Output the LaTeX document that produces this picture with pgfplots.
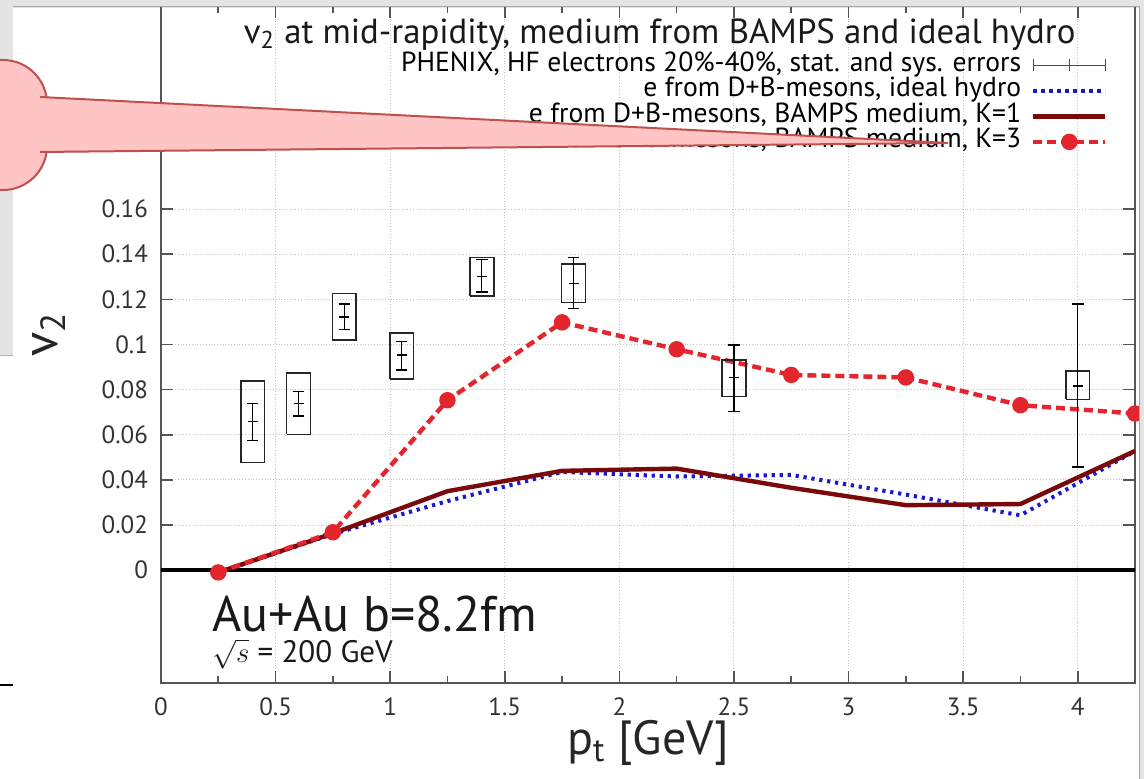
\documentclass[border=0pt]{standalone}
\usepackage{pgfplots}
\pgfplotsset{compat=1.18}
\usepackage{fontspec}
\setmainfont{PT Sans}
\definecolor{k3red}{HTML}{E3262E}
\definecolor{k1red}{HTML}{7A0A0A}
\definecolor{hydroblue}{HTML}{1A1ACC}
\definecolor{axgray}{HTML}{555555}
\definecolor{calloutfill}{HTML}{FFC4C4}
\definecolor{calloutedge}{HTML}{C0504D}
\definecolor{wingray}{HTML}{E4E4E4}
\begin{document}
\begin{tikzpicture}
\useasboundingbox (0,0) rectangle (572pt,389.5pt);
\fill[wingray] (0,0) rectangle (572pt,389.5pt);
\begin{scope}[x=0.5pt,y=-0.5pt,shift={(0,389.5pt)}]
  \fill[white] (13,8) rectangle (1139,779);
  \fill[white] (0,355) rectangle (13,779);
  \draw[gray!60] (0,355) -- (13,355);
  \draw[black,line width=1pt] (0,685) -- (13,685);
\end{scope}
\begin{axis}[
  at={(80.5pt,48pt)}, anchor=south west,
  scale only axis, width=487pt, height=338.5pt,
  xmin=0, xmax=4.25, ymin=-0.05, ymax=0.25,
  axis line style={axgray, line width=1pt},
  xtick={0,0.5,1,1.5,2,2.5,3,3.5,4},
  xticklabels={0,0.5,1,1.5,2,2.5,3,3.5,4},
  minor xtick={0.25,0.75,1.25,1.75,2.25,2.75,3.25,3.75},
  ytick={0,0.02,0.04,0.06,0.08,0.1,0.12,0.14,0.16},
  yticklabels={0,0.02,0.04,0.06,0.08,0.1,0.12,0.14,0.16},
  tick align=inside, major tick length=6pt, minor tick length=3.5pt,
  tick style={axgray, line width=0.8pt},
  xmajorgrids, ymajorgrids,
  grid style={gray!45, densely dotted, line width=0.5pt},
  ticklabel style={font=\fontsize{12.5}{13}\selectfont, text=black!80},
  xticklabel style={yshift=-4pt},
  yticklabel style={xshift=-3pt},
  xlabel={p\textsubscript{t} [GeV]}, ylabel={v\textsubscript{2}},
  every axis x label/.style={at={(rel axis cs:0.5,-0.088)}, anchor=center, font=\fontsize{24}{26}\selectfont, text=black!85},
  every axis y label/.style={at={(rel axis cs:-0.115,0.515)}, rotate=90, anchor=center, font=\fontsize{25}{27}\selectfont, text=black!85},
  legend cell align=right, legend plot pos=right,
  legend style={at={(rel axis cs:1,1)}, anchor=north east, xshift=-10.5pt, yshift=-22pt,
    draw=none, fill=none, font=\fontsize{13.8}{14}\selectfont,
    nodes={inner sep=0pt, text height=8.5pt, text depth=2.5pt},
    row sep=1.75pt, /tikz/every odd column/.append style={column sep=5pt}},
  legend image code/.code={\draw[mark repeat=2,mark phase=2,#1] plot coordinates {(0pt,0pt) (18pt,0pt) (36pt,0pt)};},
]
\addplot[black, line width=2pt, forget plot] coordinates {(0,0) (4.25,0)};
\addlegendimage{legend image code/.code={
  \draw[black!70, line width=0.6pt] (0pt,0pt) -- (36pt,0pt);
  \draw[black!70, line width=0.6pt] (0pt,-3pt) -- (0pt,3pt) (18pt,-3pt) -- (18pt,3pt) (36pt,-3pt) -- (36pt,3pt);}}
\addlegendentry{PHENIX, HF electrons 20\%-40\%, stat. and sys. errors}
\addplot[hydroblue, line width=2pt, dash pattern=on 1.6pt off 2.4pt] coordinates {
 (0.25,-0.001) (0.75,0.0160) (1.25,0.0306) (1.75,0.0435) (2.25,0.0415)
 (2.75,0.0422) (3.25,0.0335) (3.75,0.0243) (4.25,0.0528)};
\addlegendentry{e from D+B-mesons, ideal hydro}
\addplot[k1red, line width=2.2pt] coordinates {
 (0.25,-0.001) (0.75,0.0163) (1.25,0.0350) (1.75,0.0440) (2.25,0.0450)
 (2.75,0.0365) (3.25,0.0288) (3.75,0.0293) (4.25,0.0528)};
\addlegendentry{e from D+B-mesons, BAMPS medium, K=1}
\addplot[k3red, line width=2.2pt, dash pattern=on 4.5pt off 2.5pt, mark=*, mark size=3pt, mark options={solid, fill=k3red}] coordinates {
 (0.25,-0.001) (0.75,0.0168) (1.25,0.0753) (1.75,0.1098) (2.25,0.0979)
 (2.75,0.0865) (3.25,0.0854) (3.75,0.0731) (4.25,0.0694)};
\addlegendentry{e from D+B-mesons, BAMPS medium, K=3}
% systematic boxes
\addplot[black!85, line width=0.8pt, unbounded coords=jump, forget plot] coordinates {
 (0.348,0.0477) (0.452,0.0477) (0.452,0.0838) (0.348,0.0838) (0.348,0.0477) (0.4,nan)
 (0.548,0.0602) (0.652,0.0602) (0.652,0.0873) (0.548,0.0873) (0.548,0.0602) (0.6,nan)
 (0.748,0.1019) (0.852,0.1019) (0.852,0.1226) (0.748,0.1226) (0.748,0.1019) (0.8,nan)
 (0.998,0.0847) (1.102,0.0847) (1.102,0.1050) (0.998,0.1050) (0.998,0.0847) (1.05,nan)
 (1.348,0.1216) (1.452,0.1216) (1.452,0.1386) (1.348,0.1386) (1.348,0.1216) (1.4,nan)
 (1.748,0.1186) (1.852,0.1186) (1.852,0.1356) (1.748,0.1356) (1.748,0.1186) (1.8,nan)
 (2.448,0.0769) (2.552,0.0769) (2.552,0.0932) (2.448,0.0932) (2.448,0.0769) (2.5,nan)
 (3.948,0.0757) (4.052,0.0757) (4.052,0.0883) (3.948,0.0883) (3.948,0.0757)};
% statistical error bars
\addplot[black, only marks, mark=-, mark size=2.5pt, mark options={line width=0.6pt}, forget plot,
  error bars/.cd, y dir=both, y explicit,
  error bar style={black, line width=0.6pt},
  error mark options={black, line width=0.6pt, mark size=2.9pt, rotate=90}] coordinates {
 (0.40,0.0658) += (0,0.0080) -= (0,0.0083)
 (0.60,0.0740) += (0,0.0051) -= (0,0.0057)
 (0.80,0.1122) += (0,0.0057) -= (0,0.0054)
 (1.05,0.0953) += (0,0.0060) -= (0,0.0066)
 (1.40,0.1302) += (0,0.0073) -= (0,0.0069)
 (1.80,0.1272) += (0,0.0114) -= (0,0.0112)
 (2.50,0.0852) += (0,0.0146) -= (0,0.0149)
 (4.00,0.0816) += (0,0.0363) -= (0,0.0359)};
\node[font=\fontsize{17.4}{19}\selectfont, text=black!90] at (rel axis cs:0.512,0.958) {v\textsubscript{2} at mid-rapidity, medium from BAMPS and ideal hydro};
\node[anchor=base west, inner sep=0pt, font=\fontsize{25}{27}\selectfont, text=black!90] at (rel axis cs:0.052,0.076) {Au+Au b=8.2fm};
\node[anchor=base west, inner sep=0pt, font=\fontsize{15.5}{16}\selectfont, text=black!90] at (rel axis cs:0.052,0.031) {$\sqrt{s}$ = 200 GeV};
\end{axis}
\begin{scope}[x=0.5pt,y=-0.5pt,shift={(0,389.5pt)}]
  \fill[wingray] (0,0) rectangle (1144,6);
  \fill[wingray] (1139,0) rectangle (1144,779);
  \draw[gray!70] (13,6) -- (1139,6) -- (1139,779);
  \filldraw[fill=calloutfill, draw=calloutedge, line width=1pt, rounded corners=22pt] (-100,60) rectangle (47,190);
  \filldraw[fill=calloutfill, draw=calloutedge, line width=1pt] (40,97) -- (948,143) -- (40,152);
\end{scope}
\end{tikzpicture}
\end{document}
